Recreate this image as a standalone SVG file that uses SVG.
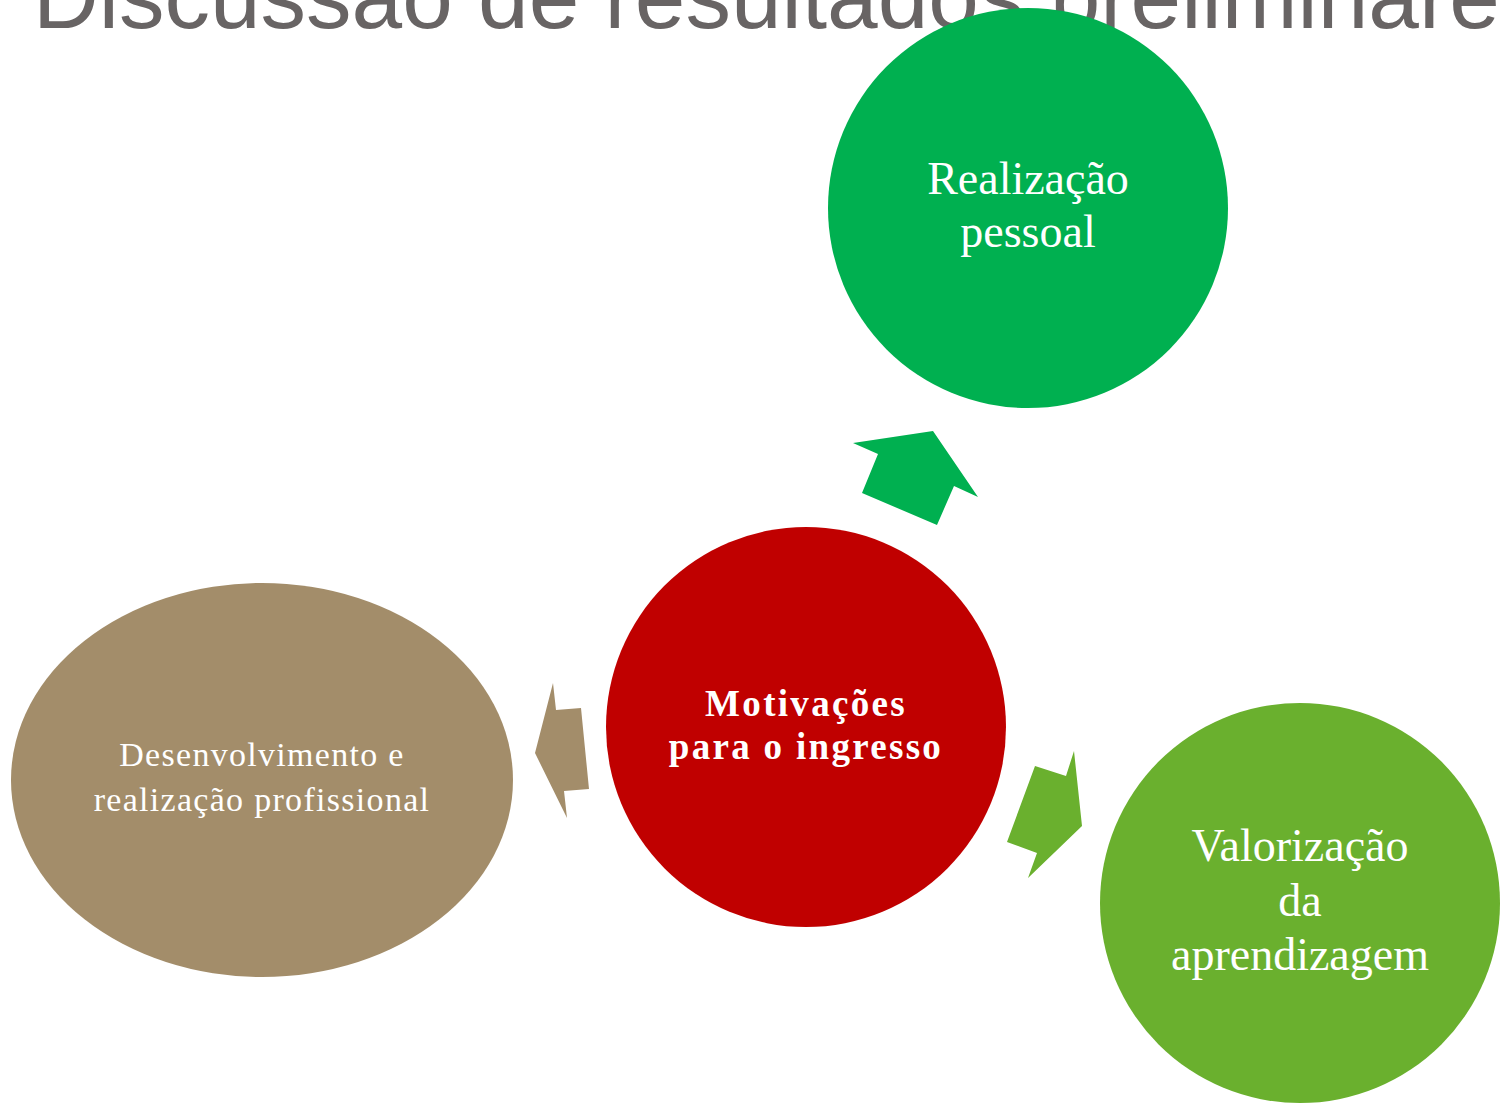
<svg xmlns="http://www.w3.org/2000/svg" width="1501" height="1103" viewBox="0 0 1501 1103">
<style>
.title{font-family:"Liberation Sans",Arial,sans-serif;font-size:91px;fill:#686464}
.lbl{font-family:"Liberation Serif","Times New Roman",serif;fill:#ffffff;text-anchor:middle}
.big{font-size:46px}
.mid{font-size:34px;letter-spacing:1.3px}
.bold{font-size:37px;font-weight:bold;letter-spacing:2.3px}
</style>
<rect width="1501" height="1103" fill="#ffffff"/>
<text class="title" x="33" y="28">Discussão de resultados preliminares</text>
<g id="connectors">
<polygon points="853,443 933,431 978,497 954,486 937,525 862,493 878,454" fill="#00b050"/>
<polygon points="553,683 556,710 581,708 589,789 564,791 567,818 535,753" fill="#a38d6a"/>
<polygon points="1074,751 1082,826 1028,878 1037,853 1007,842 1035,766 1066,776" fill="#6ab02e"/>
</g>
<g id="node-realizacao-pessoal">
<circle cx="1028" cy="208" r="200" fill="#00b050"/>
<text class="lbl big" x="1028" y="194">Realização</text>
<text class="lbl big" x="1028" y="247">pessoal</text>
</g>
<g id="node-motivacoes">
<circle cx="806" cy="727" r="200" fill="#c00000"/>
<text class="lbl bold" x="806" y="716">Motivações</text>
<text class="lbl bold" x="806" y="759">para o ingresso</text>
</g>
<g id="node-desenvolvimento">
<ellipse cx="262" cy="780" rx="251" ry="197" fill="#a38d6a"/>
<text class="lbl mid" x="262" y="766">Desenvolvimento e</text>
<text class="lbl mid" x="262" y="811">realização profissional</text>
</g>
<g id="node-valorizacao">
<circle cx="1300" cy="903" r="200" fill="#6ab02e"/>
<text class="lbl big" x="1300" y="861">Valorização</text>
<text class="lbl big" x="1300" y="916">da</text>
<text class="lbl big" x="1300" y="970">aprendizagem</text>
</g>
</svg>
